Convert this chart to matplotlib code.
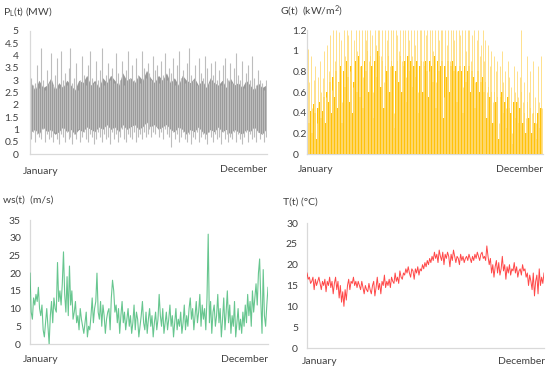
import matplotlib
matplotlib.use("Agg")
import matplotlib.pyplot as plt
import numpy as np

plt.rcParams['font.family'] = ['Lato', 'DejaVu Sans']
plt.rcParams['mathtext.fontset'] = 'custom'
plt.rcParams['mathtext.rm'] = 'Lato'
plt.rcParams['mathtext.it'] = 'Lato'

# load P_L(t): daily highs and lows (MW)
load_high = [3.1, 2.8, 2.9, 3.6, 2.7, 4.3, 3.0, 2.6, 3.4, 2.9, 4.1, 2.8, 3.2, 3.9, 2.7, 4.2, 3.0, 3.3, 2.8, 3.5,
             4.3, 2.9, 3.1, 3.7, 2.6, 3.0, 4.0, 3.2, 2.8, 3.6, 4.2, 3.1, 2.9, 3.8, 3.0, 3.4, 4.3, 2.8, 3.2, 3.7,
             3.0, 3.5, 2.9, 4.1, 3.3, 3.0, 3.8, 2.8, 3.4, 4.2, 3.1, 3.6, 3.0, 3.9, 3.2, 2.9, 4.2, 3.5, 3.1, 3.7,
             3.3, 3.0, 4.0, 3.4, 3.6, 2.9, 3.8, 3.2, 4.1, 3.0, 3.5, 3.3, 3.9, 2.8, 3.6, 4.2, 3.1, 3.4, 2.9, 3.7,
             4.3, 3.2, 3.0, 3.6, 2.8, 3.9, 3.3, 3.1, 4.0, 3.5, 2.9, 3.7, 3.2, 3.8, 3.0, 3.4, 2.8, 3.6, 3.9, 3.1,
             3.0, 3.7, 2.9, 3.5, 4.1, 3.2, 3.0, 3.8, 2.7, 3.3, 3.6, 3.0, 4.0, 3.1, 2.8, 3.4, 3.0, 2.9, 2.6, 3.0]
load_low = [0.6, 0.9, 0.5, 0.8, 0.7, 0.6, 1.0, 0.5, 0.8, 0.6, 0.7, 0.5, 0.9, 0.6, 0.4, 0.8, 0.7, 0.5, 0.9, 0.6,
            0.7, 0.4, 0.8, 0.6, 1.0, 0.5, 0.7, 0.9, 0.6, 0.5, 0.8, 0.7, 0.4, 0.6, 0.9, 0.7, 0.5, 0.8, 0.6, 0.7,
            0.4, 0.9, 0.6, 0.8, 0.5, 0.7, 1.0, 0.6, 0.5, 0.8, 0.7, 0.6, 0.9, 0.5, 0.7, 0.8, 0.6, 0.9, 0.7, 0.8,
            1.0, 0.7, 0.9, 0.8, 1.1, 0.7, 0.9, 0.6, 1.0, 0.8, 0.7, 0.3, 0.9, 0.6, 0.8, 0.5, 0.7, 0.9, 0.6, 0.5,
            0.8, 0.4, 0.7, 0.6, 0.9, 0.5, 0.7, 0.8, 0.6, 0.4, 0.9, 0.7, 0.5, 0.8, 0.6, 0.7, 0.4, 0.9, 0.6, 0.8,
            0.5, 0.7, 0.6, 0.9, 0.5, 0.8, 0.6, 0.4, 0.7, 0.9, 0.5, 0.8, 0.6, 0.7, 0.5, 0.9, 0.6, 0.8, 0.5, 0.7]
# dense dark core of the load band (MW)
load_core_hi = [2.9, 2.6, 3.0, 2.7, 2.8, 3.1, 2.6, 2.9, 2.7, 3.0, 2.8, 2.6, 3.0, 2.9, 3.2, 2.8, 3.0, 2.7, 3.1, 2.9,
                3.2, 3.0, 2.8, 3.3, 3.0, 3.1, 2.9, 3.2, 3.0, 3.4, 3.1, 2.9, 3.2, 3.0, 3.3, 2.9, 3.1, 2.8, 3.2, 3.0,
                2.9, 3.1, 2.8, 3.0, 2.7, 3.1, 2.9, 2.8, 3.0, 2.7, 3.1, 2.8, 2.9, 2.7, 3.0, 2.8, 2.6, 2.9, 2.7, 2.8]
load_core_lo = [0.9, 1.0, 0.8, 1.1, 0.9, 1.0, 0.8, 0.9, 1.1, 0.9, 1.0, 0.8, 1.0, 0.9, 1.1, 1.0, 0.9, 1.1, 1.0, 1.2,
                1.0, 1.1, 0.9, 1.2, 1.0, 1.1, 1.2, 1.0, 1.1, 1.3, 1.1, 1.2, 1.0, 1.1, 1.2, 1.0, 0.9, 1.1, 1.0, 0.8,
                1.0, 0.9, 1.1, 0.9, 0.8, 1.0, 0.9, 1.1, 0.9, 1.0, 0.8, 1.0, 0.9, 0.8, 1.0, 0.9, 1.1, 0.9, 0.8, 1.0]

# irradiance G(t): daily peak (light streaks) and the solid level under it (kW/m2)
solar_peak = [1.02, 0.7, 0.95, 0.45, 0.72, 0.85, 0.3, 0.75, 0.9, 0.6, 0.74, 1.0, 0.55,
              1.05, 0.8, 1.15, 0.62, 1.2, 0.9, 1.2, 0.7, 1.18, 1.1, 0.5, 1.2, 0.95, 1.2, 1.15, 0.8, 1.2, 0.65,
              1.1, 1.2, 1.0, 1.2, 0.85, 1.2, 0.75,
              1.2, 1.1, 1.2, 0.9, 1.2, 1.15, 0.6, 1.2, 1.05, 1.2, 1.2, 0.95, 1.2, 0.7, 1.2, 1.1, 1.2, 0.85,
              1.2, 1.2, 0.4, 1.2, 1.15, 1.0, 1.2, 0.9, 1.2, 1.2, 0.75, 1.2, 1.1, 1.2, 0.95, 1.2, 1.05, 1.2,
              0.6, 1.2, 1.2, 0.9,
              1.2, 1.15, 1.2, 0.8, 1.2, 1.2, 1.0, 1.2, 0.7, 1.2, 1.1, 1.2, 1.2, 0.55, 1.2, 1.05, 1.2, 0.9,
              1.2, 1.2, 1.1, 1.2, 0.8, 1.2, 1.15, 1.2, 0.65, 1.2, 1.0, 1.2, 1.2, 0.9, 1.15, 1.2, 0.7, 1.1,
              1.2, 0.95, 1.05, 1.2,
              0.9, 1.1, 0.6, 1.05, 0.85, 1.0, 0.5, 0.95, 0.8, 0.9, 0.3, 0.85, 1.0, 0.7, 0.8, 0.45, 0.9, 0.75,
              0.65, 0.2, 0.85, 0.6, 0.8, 0.55, 0.75, 1.2, 0.5, 0.7, 0.35, 0.95,
              0.6, 0.8, 0.4, 0.9, 0.55, 0.3, 0.85, 0.5, 0.95, 0.45]
solar_core = [0.45, 0.3, 0.42, 0.2, 0.48, 0.4, 0.15, 0.45, 0.5, 0.35, 0.42, 0.55, 0.3,
              0.6, 0.5, 0.7, 0.4, 0.75, 0.55, 0.8, 0.45, 0.7, 0.85, 0.3, 0.8, 0.65, 0.9, 0.75, 0.5, 0.85, 0.4,
              0.7, 0.9, 0.6, 0.95, 0.55, 0.85, 0.45,
              0.9, 0.8, 1.0, 0.6, 0.95, 0.85, 0.35, 0.9, 0.75, 1.0, 0.95, 0.65, 0.9, 0.45, 0.85, 0.8, 0.95, 0.6,
              0.9, 0.85, 0.25, 0.8, 0.9, 0.7, 0.95, 0.6, 0.85, 0.9, 0.5, 0.95, 0.8, 0.9, 0.65, 0.85, 0.75, 0.9,
              0.4, 0.85, 0.9, 0.6,
              0.85, 0.9, 0.8, 0.55, 0.9, 0.85, 0.7, 0.95, 0.45, 0.9, 0.8, 0.85, 0.9, 0.35, 0.85, 0.75, 0.9, 0.6,
              0.85, 0.9, 0.8, 0.85, 0.5, 0.8, 0.85, 0.8, 0.4, 0.85, 0.7, 0.8, 0.85, 0.6, 0.8, 0.75, 0.45, 0.7,
              0.8, 0.6, 0.7, 0.75,
              0.6, 0.7, 0.35, 0.65, 0.55, 0.6, 0.3, 0.6, 0.5, 0.55, 0.15, 0.55, 0.6, 0.4, 0.5, 0.25, 0.55, 0.45,
              0.4, 0.1, 0.5, 0.35, 0.5, 0.3, 0.45, 0.6, 0.3, 0.4, 0.2, 0.5,
              0.35, 0.45, 0.2, 0.4, 0.3, 0.15, 0.4, 0.25, 0.45, 0.2]

# wind speed ws(t) (m/s)
wind = [20, 9, 7, 13, 11, 14, 12, 16, 10, 8, 11, 4, 2, 6, 10, 5, 0,
        8, 12, 6, 13, 10, 9, 23, 12, 15, 11, 17, 26, 14, 9, 19, 8, 22,
        11, 15, 7, 9, 12, 6, 8, 4, 10, 7, 5, 3, 6, 9, 2, 5, 4,
        8, 13, 6, 10, 12, 20, 9, 7, 12, 5, 11, 8, 3, 7, 9, 10, 4,
        13, 18, 15, 9, 11, 6, 10, 3, 8, 12, 6, 9, 4, 7, 10, 5, 8,
        3, 6, 11, 4, 9, 7, 2, 5, 8, 12, 6, 4, 9, 3, 7, 10,
        5, 8, 2, 6, 9, 4, 7, 14, 8, 5, 10, 3, 6, 9, 4, 7, 11,
        5, 8, 2, 6, 10, 4, 7, 5, 9, 3, 6, 11, 4, 8, 5, 10, 13,
        7, 10, 4, 8, 12, 6, 9, 14, 5, 11, 7, 10, 4, 13, 31, 6, 12,
        3, 9, 11, 5, 8, 14, 6, 10, 2, 7, 13, 4, 9, 15, 6, 11, 3,
        8, 5, 12, 2, 6, 10, 4, 7, 3, 9, 5, 11, 6, 14, 8, 12, 5,
        15, 9, 13, 17, 11, 20, 24, 12, 3, 21, 8, 5, 11, 16]

# temperature T(t) (deg C)
temp = [18, 16.5, 17, 15.5, 16, 17, 14, 16.5, 15, 16, 17, 15.5, 14, 16, 15, 16.5, 13.5,
        16, 15, 17, 14.5, 16, 13, 15.5, 17, 14, 16, 12, 15, 11, 13.5, 10, 14, 11.5,
        15, 16.5, 14, 16, 15.5, 17, 15, 16, 14.5, 16, 15, 14, 16, 14.5, 13, 15, 14,
        13.5, 15.5, 14, 13, 15, 16, 12.5, 14.5, 17, 14, 15.5, 13, 16, 15, 17.5, 14.5, 16,
        15, 16.5, 14.5, 17, 16, 15.5, 18, 16, 17, 15.5, 18.5, 17, 16.5, 18, 17.5, 19, 18,
        19.5, 18, 17, 19, 18.5, 16.5, 19, 18, 19.5, 17.5, 19, 18.5, 20, 19, 20.5, 19.5,
        21, 20, 21.5, 20.5, 22, 21, 23, 21.5, 22.5, 20.5, 23.5, 22, 21, 23, 20, 22.5, 21.5,
        23, 22, 19.5, 22.5, 21, 23.5, 22, 20.5, 22, 21.5, 20, 22.5, 21, 22, 20.5, 21.5, 22,
        21, 22.5, 21.5, 20.5, 22, 21, 22.5, 21.5, 23, 22, 21, 22.5, 23, 21.5, 22, 21, 24.5,
        22, 20, 21.5, 18, 20, 17, 19.5, 21, 18, 20.5, 17.5, 19, 22, 18.5, 20, 16.5, 19.5,
        18, 20, 17.5, 19, 18.5, 20.5, 18, 19.5, 17, 18.5, 19, 17.5, 20, 18.5, 19, 17, 18,
        15, 17.5, 16, 14, 18, 12.5, 16, 17.5, 13, 19, 15, 17, 15.5, 18]

TXT = '#404040'
SPINE = '#d9d9d9'
W, H = 550.0, 370.0


def make_ax(fig, left, right, y0, ytop):
    # pixel box -> figure fraction
    ax = fig.add_axes([left / W, 1 - y0 / H, (right - left) / W, (y0 - ytop) / H])
    for s in ['top', 'right']:
        ax.spines[s].set_visible(False)
    for s in ['left', 'bottom']:
        ax.spines[s].set_color(SPINE)
        ax.spines[s].set_linewidth(0.9)
        ax.spines[s].set_zorder(0)
    ax.set_xticks([])
    ax.tick_params(axis='y', length=0, labelsize=7.5, labelcolor=TXT)
    return ax


def month_labels(ax, jx, jy, dx, dy):
    fig = ax.figure
    fig.text(jx / W, 1 - jy / H, 'January', fontsize=7.5, color=TXT, ha='left', va='center')
    fig.text(dx / W, 1 - dy / H, 'December', fontsize=7.5, color=TXT, ha='right', va='center')


fig = plt.figure(figsize=(5.5, 3.7), dpi=100)

# load
ax1 = make_ax(fig, 30, 267, 154, 31)
n = len(load_high)
xd = np.arange(n)
ax1.vlines(xd, load_low, load_high, color='#bdbdbd', lw=0.8)
xc = np.linspace(0, n - 1, len(load_core_hi))
ax1.fill_between(xc, load_core_lo, load_core_hi, color='#999999', lw=0)
ax1.set_xlim(-0.5, n - 0.5)
ax1.set_ylim(0, 5)
ax1.set_yticks(np.arange(0, 5.01, 0.5))
ax1.set_yticklabels(['0', '0.5', '1', '1.5', '2', '2.5', '3', '3.5', '4', '4.5', '5'])
ax1.tick_params(axis='y', pad=8)
fig.text(3 / W, 1 - 11 / H, 'P$_\\mathregular{L}$(t) (MW)', fontsize=7.5, color=TXT, va='center')
month_labels(ax1, 23, 172, 267, 170)

# irradiance
ax2 = make_ax(fig, 307, 543, 154, 30)
m = min(len(solar_peak), len(solar_core))
xs = np.arange(m)
ax2.vlines(xs, 0, solar_peak[:m], color='#ffdc7a', lw=0.6)
ax2.fill_between(xs, 0, solar_core[:m], step='mid', color='#ffc20a', lw=0)
ax2.set_xlim(-0.5, m - 0.5)
ax2.set_ylim(0, 1.2)
ax2.set_yticks([0, 0.2, 0.4, 0.6, 0.8, 1.0, 1.2])
ax2.set_yticklabels(['0', '0.2', '0.4', '0.6', '0.8', '1', '1.2'])
ax2.tick_params(axis='y', pad=10.5)
for t in ax2.get_yticklabels():
    t.set_ha('left')
fig.text(280 / W, 1 - 11 / H, 'G(t)  (kW/m$^\\mathregular{2}$)', fontsize=7.5, color=TXT, va='center')
month_labels(ax2, 298, 170, 543, 169)

# wind
ax3 = make_ax(fig, 30, 268, 344, 220)
ax3.plot(np.arange(len(wind)), wind, color='#27ae60', lw=0.8, alpha=0.7)
ax3.set_xlim(0, len(wind) - 1)
ax3.set_ylim(0, 35)
ax3.set_yticks(range(0, 36, 5))
ax3.tick_params(axis='y', pad=6.5)
fig.text(3 / W, 1 - 200 / H, 'ws(t)  (m/s)', fontsize=7.5, color=TXT, va='center')
month_labels(ax3, 23, 359, 268, 359)

# temperature
ax4 = make_ax(fig, 307, 544, 348, 223)
ax4.plot(np.arange(len(temp)), temp, color='#ff1a1a', lw=0.7, alpha=0.8)
ax4.set_xlim(0, len(temp) - 1)
ax4.set_ylim(0, 30)
ax4.set_yticks(range(0, 31, 5))
ax4.tick_params(axis='y', pad=6.5)
fig.text(283 / W, 1 - 202 / H, 'T(t) (°C)', fontsize=7.5, color=TXT, va='center')
month_labels(ax4, 302, 361, 545, 362)

fig.savefig('out.png', dpi=100)
